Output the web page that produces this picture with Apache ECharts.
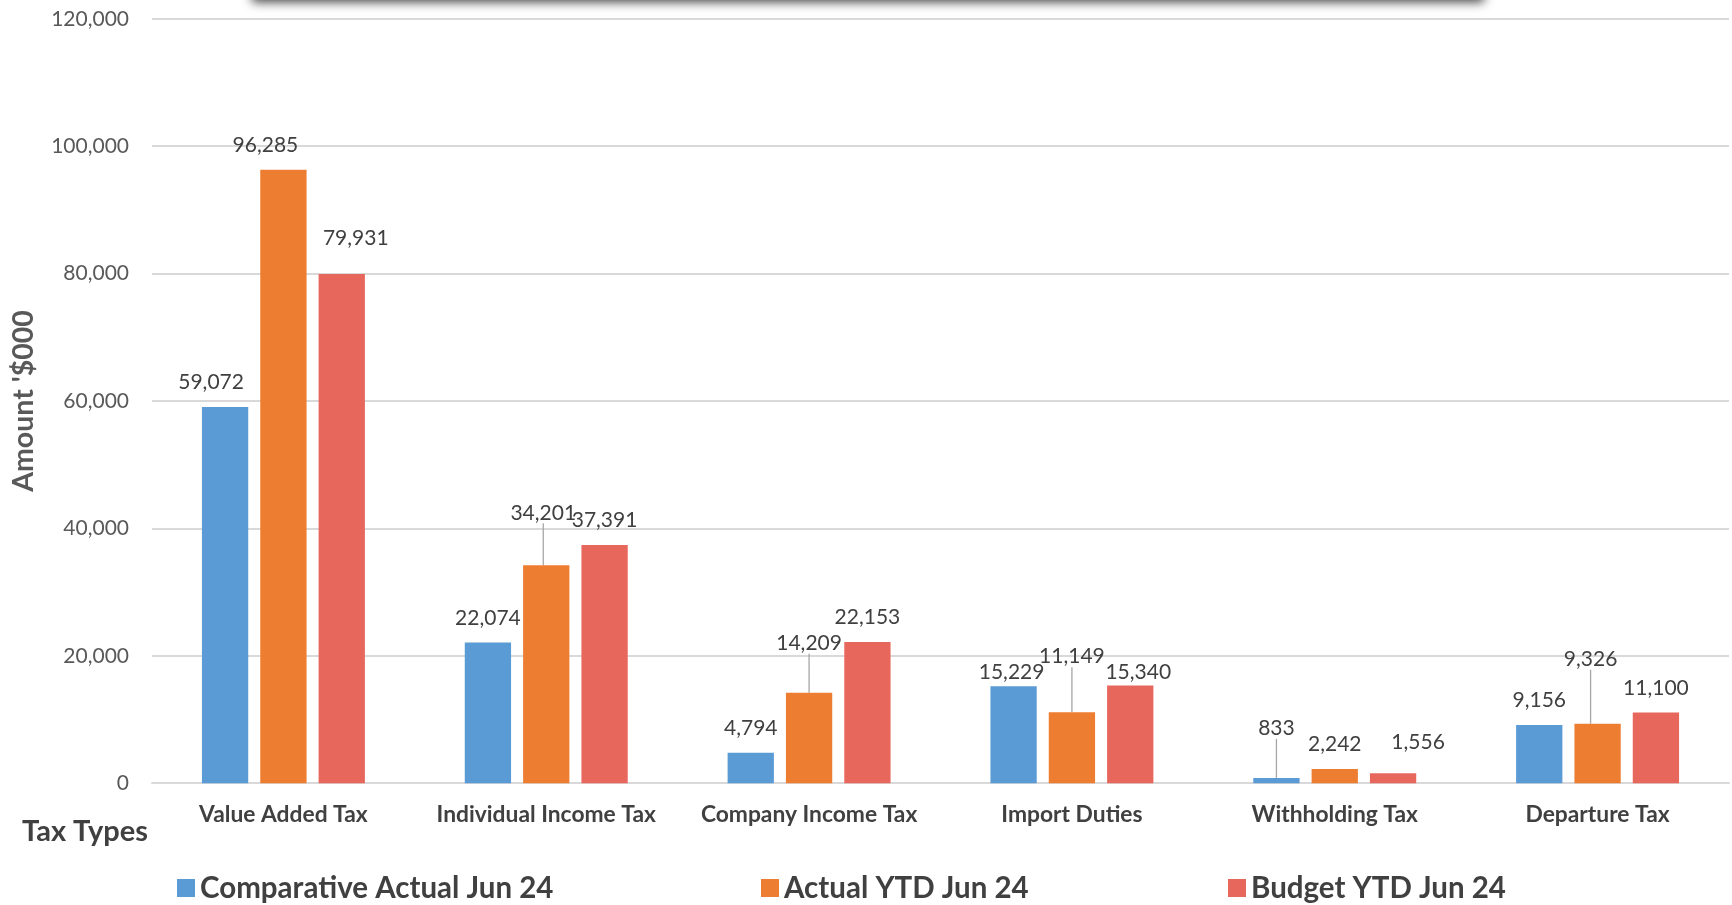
<!DOCTYPE html>
<html><head><meta charset="utf-8">
<script src="https://cdn.jsdelivr.net/npm/echarts@6/dist/echarts.min.js"></script>
<style>html,body{margin:0;padding:0;background:#fff}#c{width:1732px;height:905px}</style>
</head><body><div id="c"></div>
<script>
const categories = ['Value Added Tax','Individual Income Tax','Company Income Tax','Import Duties','Withholding Tax','Departure Tax'];
const seriesNames = ['Comparative Actual Jun 24','Actual YTD Jun 24','Budget YTD Jun 24'];
const comparativeActual = [59072, 22074, 4794, 15229, 833, 9156];
const actualYTD = [96285, 34201, 14209, 11149, 2242, 9326];
const budgetYTD = [79931, 37391, 22153, 15340, 1556, 11100];
const yTicks = [0, 20000, 40000, 60000, 80000, 100000, 120000];

// label placement tweaks (styling only): 'series-index' -> [dx, dy, leader]
const labelShift = {
  '0-0': [-14, 0, false], '0-3': [-2, 11, false], '0-4': [0, -25, true],
  '1-0': [-18, 0, false], '1-1': [-3, -28, true], '1-2': [0, -25, true], '1-3': [0, -31, true], '1-5': [-7, -40, true],
  '2-0': [14, -11, false], '2-3': [8, 11, false], '2-4': [25, -7, false]
};
const colors = ['#5B9BD5', '#ED7D31', '#E8675D'];
const fontFam = 'Lato, "Open Sans", sans-serif';
const chart = echarts.init(document.getElementById('c'), null, {renderer: 'canvas'});

function makeSeries(name, values, si) {
  const items = values.map((v, i) => {
    const s = labelShift[si + '-' + i];
    return {value: v, labelLine: {show: !!(s && s[2])}};
  });
  return {
    name: name, type: 'bar', data: items,
    barGap: '26%', barCategoryGap: '38%',
    itemStyle: {color: colors[si]},
    label: {show: true, position: 'top', distance: 14, color: '#404040', fontSize: 21, fontFamily: fontFam,
      formatter: p => p.value.toLocaleString('en-US')},
    labelLine: {show: false, lineStyle: {color: '#A6A6A6', width: 1.3}},
    labelLayout: function (p) {
      const s = labelShift[si + '-' + p.dataIndex];
      if (!s) return {};
      const r = p.rect, lr = p.labelRect;
      const out = {dx: s[0], dy: s[1]};
      if (s[2]) {
        const lx = lr.x + lr.width / 2 + s[0];
        const ly = lr.y + lr.height + s[1] + 1;
        const bx = r.x + r.width / 2, by = r.y;
        out.labelLinePoints = [[lx, ly], [bx, by], [bx, by]];
      }
      return out;
    }
  };
}

const legendBase = {icon: 'rect', itemWidth: 18, itemHeight: 18, itemGap: 8, top: 873, padding: 0,
  textStyle: {fontSize: 29.5, fontWeight: 'bold', color: '#404040', fontFamily: fontFam}};

chart.setOption({
  backgroundColor: '#ffffff',
  animation: false,
  grid: {left: 152, right: 3, top: 18.8, bottom: 121.8, containLabel: false},
  legend: [
    Object.assign({}, legendBase, {left: 177, data: [seriesNames[0]]}),
    Object.assign({}, legendBase, {left: 761, data: [seriesNames[1]]}),
    Object.assign({}, legendBase, {left: 1228, data: [seriesNames[2]]})
  ],
  xAxis: {
    type: 'category', data: categories,
    axisTick: {show: false},
    axisLine: {lineStyle: {color: '#D9D9D9', width: 2}},
    axisLabel: {margin: 20, fontSize: 22.8, fontWeight: 'bold', color: '#404040', fontFamily: fontFam, interval: 0}
  },
  yAxis: {
    type: 'value', min: yTicks[0], max: yTicks[yTicks.length - 1], interval: yTicks[1] - yTicks[0],
    name: "Amount '$000", nameLocation: 'middle', nameGap: 114,
    nameTextStyle: {fontSize: 28.5, fontWeight: 'bold', color: '#595959', fontFamily: fontFam},
    axisLine: {show: false}, axisTick: {show: false},
    splitLine: {lineStyle: {color: '#D9D9D9', width: 2}},
    axisLabel: {margin: 23, fontSize: 21, color: '#595959', fontFamily: fontFam,
      formatter: v => v.toLocaleString('en-US')}
  },
  graphic: [
    {type: 'rect', shape: {x: 252, y: -60, width: 1232, height: 59},
      style: {fill: '#ffffff', shadowBlur: 10, shadowColor: 'rgba(0,0,0,0.75)', shadowOffsetY: 3}},
    {type: 'text', left: 22, top: 817,
      style: {text: 'Tax Types', fontSize: 29, fontWeight: 'bold', fill: '#404040', fontFamily: fontFam}}
  ],
  series: [
    makeSeries(seriesNames[0], comparativeActual, 0),
    makeSeries(seriesNames[1], actualYTD, 1),
    makeSeries(seriesNames[2], budgetYTD, 2)
  ]
});
</script></body></html>
